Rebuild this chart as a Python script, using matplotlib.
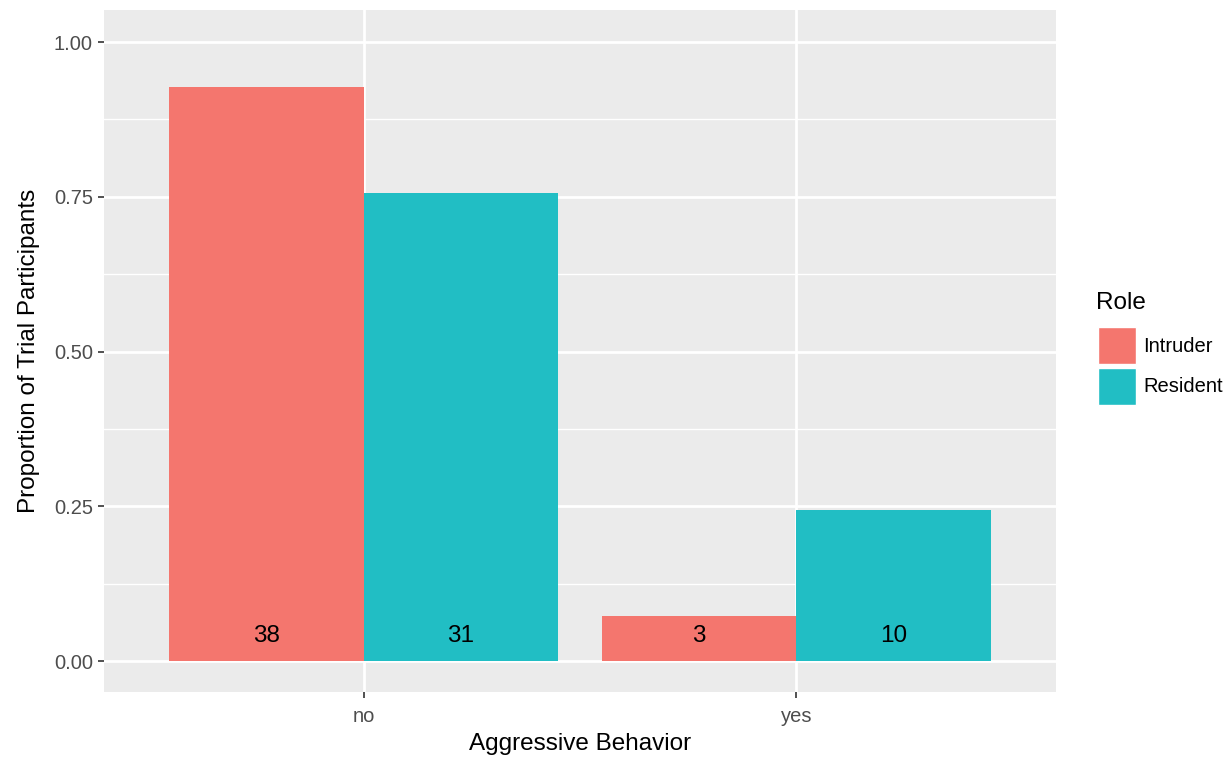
import matplotlib.pyplot as plt
from matplotlib.patches import Rectangle
from matplotlib.ticker import MultipleLocator

plt.rcParams['font.family'] = ['Liberation Sans', 'DejaVu Sans']

behaviors = ['no', 'yes']
roles = ['Intruder', 'Resident']
counts = {'Intruder': [38, 3], 'Resident': [31, 10]}
proportions = {'Intruder': [0.927, 0.073], 'Resident': [0.756, 0.244]}
colors = {'Intruder': '#F4766E', 'Resident': '#21BEC4'}

fig = plt.figure(figsize=(12.28, 7.57), dpi=100, facecolor='white')
ax = fig.add_axes([104 / 1228, 65 / 757, (1056 - 104) / 1228, (692 - 10) / 757])
ax.set_facecolor('#EBEBEB')

width = 0.45
for i, role in enumerate(roles):
    offset = (i - 0.5) * width
    for j, beh in enumerate(behaviors):
        x = j + 1 + offset
        ax.bar(x, proportions[role][j], width=width, color=colors[role], zorder=2)
        ax.text(x, 0.04, str(counts[role][j]), ha='center', va='center',
                fontsize=17.5, color='black', zorder=3)

ax.set_xlim(0.4, 2.6)
ax.set_ylim(-0.05, 1.0517)
ax.set_xticks([1, 2])
ax.set_xticklabels(behaviors)
ax.yaxis.set_minor_locator(MultipleLocator(0.125))
ax.set_yticks([0, 0.25, 0.5, 0.75, 1.0])
ax.set_yticklabels(['0.00', '0.25', '0.50', '0.75', '1.00'])

ax.grid(which='major', color='white', linewidth=2, zorder=1)
ax.grid(which='minor', axis='y', color='white', linewidth=1, zorder=1)
ax.set_axisbelow(True)
for s in ax.spines.values():
    s.set_visible(False)
ax.tick_params(which='major', length=4, width=1.2, color='#333333',
               labelcolor='#4D4D4D', labelsize=14.5, pad=4)
ax.tick_params(axis='x', which='major', pad=6.5)
ax.tick_params(which='minor', length=0)

ax.set_xlabel('Aggressive Behavior', fontsize=17.5, labelpad=5.5)
ax.set_ylabel('Proportion of Trial Participants', fontsize=17.5, labelpad=10)

# legend
fig.text(1096 / 1228, 1 - 303 / 757, 'Role', fontsize=17.5, va='center', ha='left')
for k, role in enumerate(roles):
    y0 = 327 + k * 41
    fig.add_artist(Rectangle((1098 / 1228, 1 - (y0 + 37) / 757), 38 / 1228, 37 / 757,
                             transform=fig.transFigure, facecolor=colors[role],
                             edgecolor='white', linewidth=1))
    fig.text(1143 / 1228, 1 - (y0 + 19) / 757, role, fontsize=14.5, va='center', ha='left')

fig.savefig('out.png', dpi=100)
